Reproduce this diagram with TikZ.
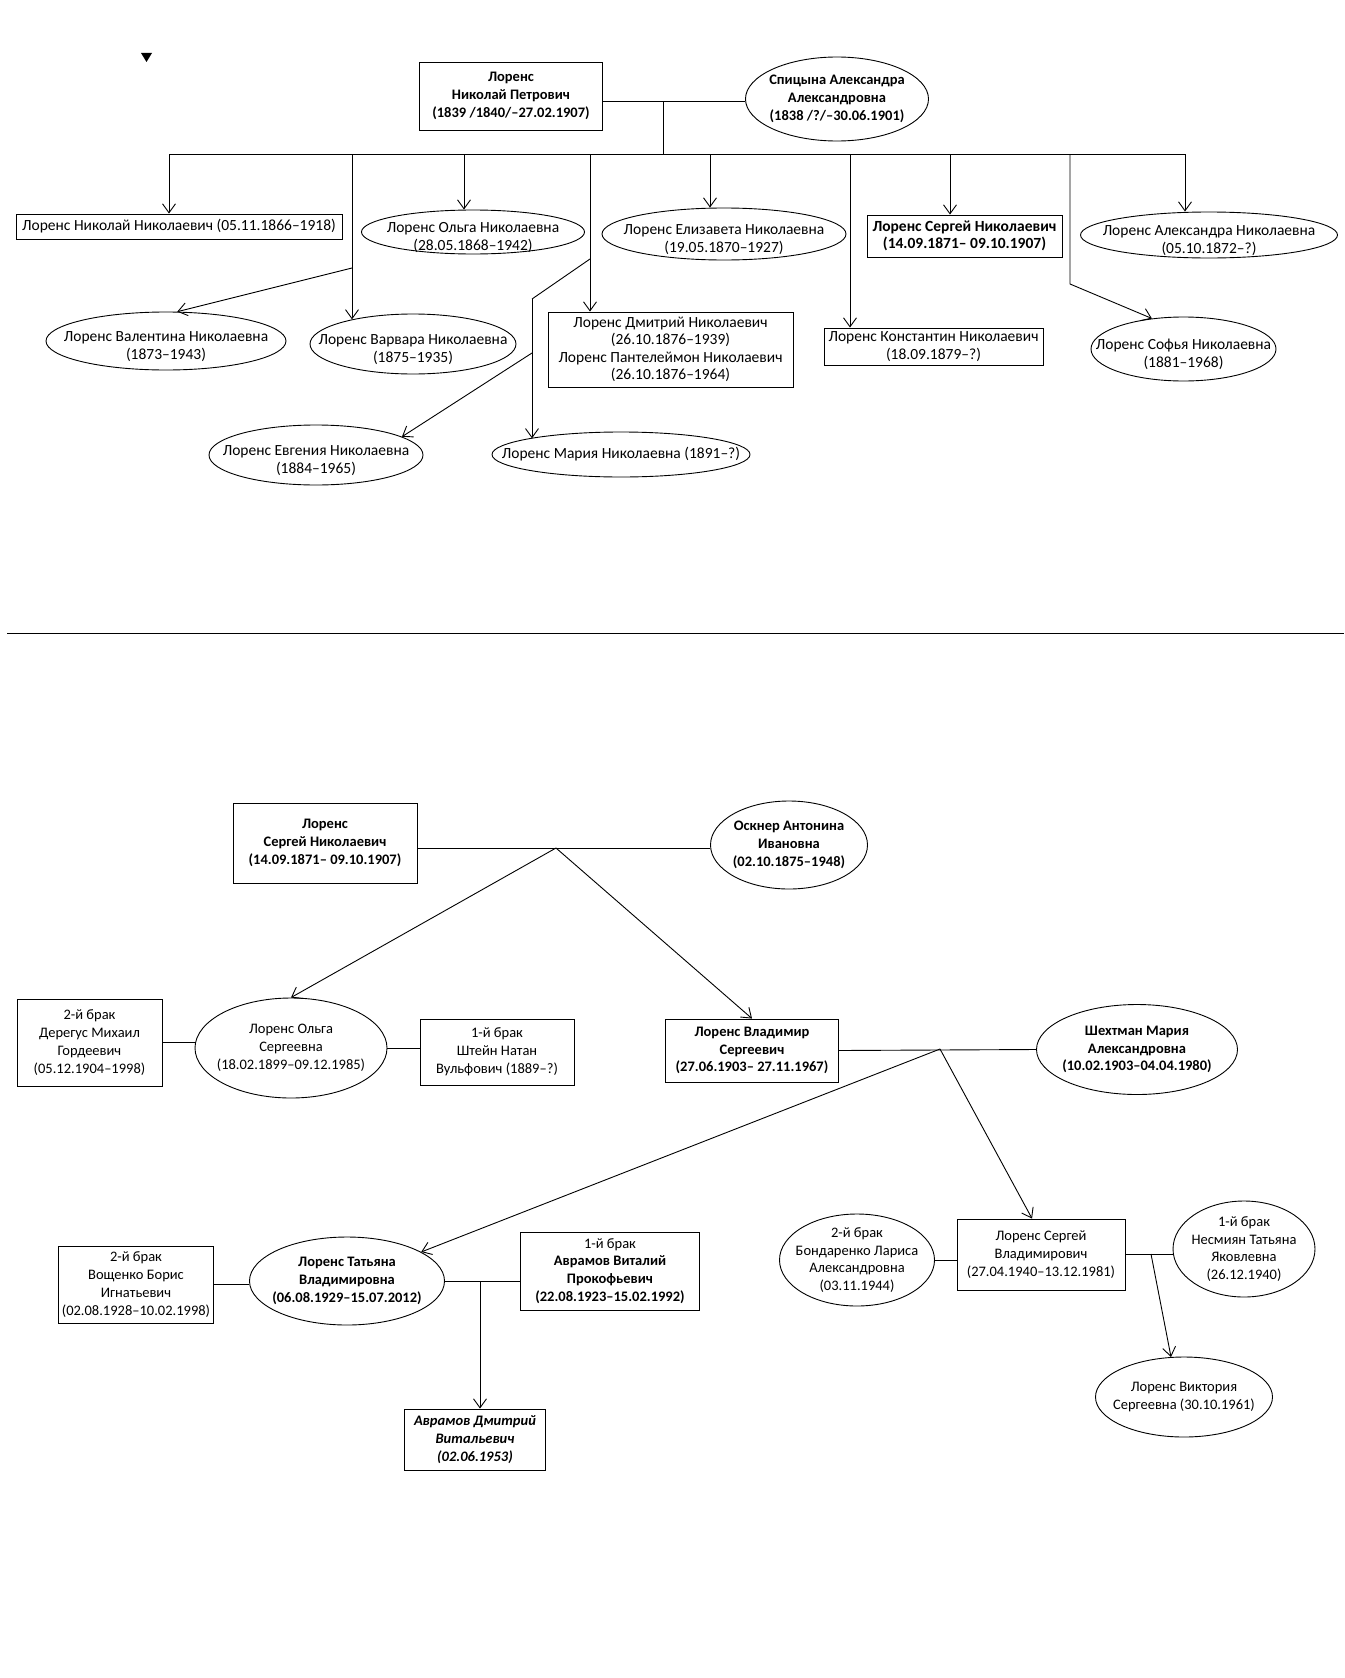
\documentclass[tikz,border=0pt]{standalone}
\usepackage{fontspec}
\setmainfont{Carlito}
\usetikzlibrary{arrows.meta,shapes.geometric}
\newcommand{\pfont}{\fontsize{14.5}{17.8}\selectfont}
\newcommand{\tfont}{\fontsize{15.5}{17.5}\selectfont}

\begin{document}
\begin{tikzpicture}[
    x=1pt, y=-1pt,
    font=\pfont,
    line width=0.9pt,
    >={Straight Barb[length=9pt,width=13pt]},
    person/.style={draw, align=center, inner sep=0pt},
    oval/.style={person, ellipse, inner sep=-200pt},
    bold/.style={font=\pfont\bfseries},
    bolditalic/.style={font=\pfont\bfseries\itshape},
    kid/.style={font=\tfont},
    kidbold/.style={font=\tfont\bfseries},
    sunk/.style={execute at begin node={\rule{0pt}{39pt}}},
    child/.style={->},
]
\useasboundingbox (0,0) rectangle (1344,1678);

    % =====================================================================
    % Top: Nikolai Petrovich and his children
    % =====================================================================
    \fill (141,53) -- (152,53) -- (146.5,62) -- cycle;

    \node[person, bold, minimum width=183, minimum height=68] (nikpet) at (511,96) {Лоренс\\Николай Петрович\\(1839 /1840/–27.02.1907)};
    \node[oval, bold, minimum width=183, minimum height=84] (spic) at (837,99) {Спицына Александра\\Александровна\\(1838 /?/–30.06.1901)};

    % Children, first row
    \node[person, kid, minimum width=326, minimum height=25] (nikol) at (179,226.5) {Лоренс Николай Николаевич (05.11.1866–1918)};
    \node[oval, kid, sunk, minimum width=223, minimum height=44] (olga) at (473,232) {Лоренс Ольга Николаевна\\(28.05.1868–1942)};
    \node[oval, kid, sunk, minimum width=244, minimum height=52] (eliz) at (724,234) {Лоренс Елизавета Николаевна\\(19.05.1870–1927)};
    \node[person, kidbold, minimum width=195, minimum height=42] (sergn) at (964.5,236) {Лоренс Сергей Николаевич\\(14.09.1871– 09.10.1907)};
    \node[oval, kid, sunk, minimum width=257, minimum height=46] (alex) at (1209,235) {Лоренс Александра Николаевна\\(05.10.1872–?)};

    % Children, second and third rows
    \node[oval, kid, sunk, minimum width=240, minimum height=58] (valent) at (166,341) {Лоренс Валентина Николаевна\\(1873–1943)};
    \node[oval, kid, sunk, minimum width=206, minimum height=60] (varv) at (413,344) {Лоренс Варвара Николаевна\\(1875–1935)};
    \node[person, kid, minimum width=245, minimum height=75] (twins) at (670.5,349.5) {Лоренс Дмитрий Николаевич\\(26.10.1876–1939)\\Лоренс Пантелеймон Николаевич\\(26.10.1876–1964)};
    \node[person, kid, minimum width=219, minimum height=37] (konst) at (933.5,346.5) {Лоренс Константин Николаевич\\(18.09.1879–?)};
    \node[oval, kid, sunk, minimum width=185, minimum height=64] (sofya) at (1183.5,349) {Лоренс Софья Николаевна\\(1881–1968)};
    \node[oval, kid, sunk, minimum width=214, minimum height=60] (evg) at (316,455) {Лоренс Евгения Николаевна\\(1884–1965)};
    \node[oval, kid, minimum width=258, minimum height=45] (maria) at (621,454.5) {Лоренс Мария Николаевна (1891–?)};

    % Marriage line and bus
    \coordinate (wed) at (663,101);
    \coordinate (bus) at (663,154);
    \coordinate (busL) at (169,154);
    \coordinate (busR) at (1185,154);
    \draw (nikpet.east |- wed) -- (spic.west |- wed);
    \draw (wed) -- (bus);
    \draw (busL) -- (busR);

    \coordinate (d2) at (352,154);
    \coordinate (d3) at (464,154);
    \coordinate (d4) at (590,154);
    \coordinate (d5) at (710,154);
    \coordinate (d6) at (850,154);
    \coordinate (d7) at (950,154);
    \coordinate (d8) at (1070,154);

    \draw[child] (busL) -- (busL |- nikol.north);
    \draw[child] (d2) -- (d2 |- varv.158);
    \coordinate (v1) at (352,268);
    \draw[child] (v1) -- (valent.69);
    \draw[child] (d3) -- (d3 |- olga.north);
    \draw[child] (d4) -- (d4 |- twins.north);
    \coordinate (f1) at (590,259);
    \coordinate (f2) at (532,299);
    \coordinate (f3) at (532,353);
    \draw (f1) -- (f2);
    \draw[child] (f2) -- (f2 |- maria.170);
    \draw[child] (f3) -- (evg.12);
    \draw[child] (d5) -- (d5 |- eliz.north);
    \draw[child] (d6) -- (d6 |- konst.north);
    \draw[child] (d7) -- (d7 |- sergn.north);
    \coordinate (s1) at (1070,284);
    \draw[child] (d8) -- (s1) -- (sofya.136);
    \draw[child] (busR) -- (busR |- alex.north);

    % Divider
    \draw (7,633) -- (1344,633);

    % =====================================================================
    % Bottom: Sergei Nikolaevich and his line
    % =====================================================================
    \node[person, bold, minimum width=184, minimum height=80] (sergey) at (325,843) {Лоренс\\Сергей Николаевич\\(14.09.1871– 09.10.1907)};
    \node[oval, bold, minimum width=157, minimum height=88] (osk) at (789,845) {Оскнер Антонина\\Ивановна\\(02.10.1875–1948)};

    \node[oval, minimum width=192, minimum height=100] (olgas) at (291,1048) {Лоренс Ольга\\Сергеевна\\(18.02.1899–09.12.1985)};
    \node[person, minimum width=145, minimum height=87] (dereg) at (89.5,1042.5) {2-й брак\\Дерегус Михаил\\Гордеевич\\(05.12.1904–1998)};
    \node[person, minimum width=154, minimum height=66] (shtein) at (497,1052) {1-й брак\\Штейн Натан\\Вульфович (1889–?)};

    \node[person, bold, minimum width=173, minimum height=63] (vlad) at (752,1050.5) {Лоренс Владимир\\Сергеевич\\(27.06.1903– 27.11.1967)};
    \node[oval, bold, minimum width=201, minimum height=90] (shekh) at (1137,1049.5) {Шехтман Мария\\Александровна\\(10.02.1903–04.04.1980)};

    \node[oval, bold, minimum width=195, minimum height=88] (tanya) at (347,1281) {Лоренс Татьяна\\Владимировна\\(06.08.1929–15.07.2012)};
    \node[person, minimum width=155, minimum height=77] (vosh) at (136,1284.5) {2-й брак\\Вощенко Борис\\Игнатьевич\\(02.08.1928–10.02.1998)};
    \node[person, minimum width=179, minimum height=78] (avram) at (610,1271) {1-й брак\\\textbf{Аврамов Виталий}\\\textbf{Прокофьевич}\\\textbf{(22.08.1923–15.02.1992)}};
    \node[person, bolditalic, minimum width=141, minimum height=61] (dmitry) at (475,1439.5) {Аврамов Дмитрий\\Витальевич\\(02.06.1953)};

    \node[person, minimum width=168, minimum height=71] (sergv) at (1041,1254.5) {Лоренс Сергей\\Владимирович\\(27.04.1940–13.12.1981)};
    \node[oval, minimum width=155, minimum height=92] (bond) at (857,1260) {2-й брак\\Бондаренко Лариса\\Александровна\\(03.11.1944)};
    \node[oval, minimum width=142, minimum height=96] (nesm) at (1244,1249) {1-й брак\\Несмиян Татьяна\\Яковлевна\\(26.12.1940)};
    \node[oval, minimum width=177, minimum height=80] (vika) at (1184,1397) {Лоренс Виктория\\Сергеевна (30.10.1961)};

    % Marriages and children
    \coordinate (wed2) at (556,848);
    \draw (sergey.east |- wed2) -- (osk.west |- wed2);
    \draw[child] (wed2) -- (olgas.north);
    \draw[child] (wed2) -- (vlad.north);

    \draw (dereg.east) -- (dereg.east -| olgas.west);
    \draw (olgas.east) -- (olgas.east -| shtein.west);

    \coordinate (wed3) at (940,1049);
    \draw (vlad.east) -- (shekh.west);
    \draw[child] (wed3) -- (tanya);
    \draw[child] (wed3) -- (sergv.104);

    \coordinate (wed4) at (480,1281);
    \draw (vosh.east) -- (vosh.east -| tanya.west);
    \draw (tanya.east) -- (tanya.east -| avram.west);
    \draw[child] (wed4) -- (wed4 |- dmitry.north);

    \coordinate (wed5) at (1151,1254);
    \draw (bond.east) -- (bond.east -| sergv.west);
    \draw (sergv.east) -- (sergv.east -| nesm.west);
    \draw[child] (wed5) -- (vika.108);

\end{tikzpicture}
\end{document}
